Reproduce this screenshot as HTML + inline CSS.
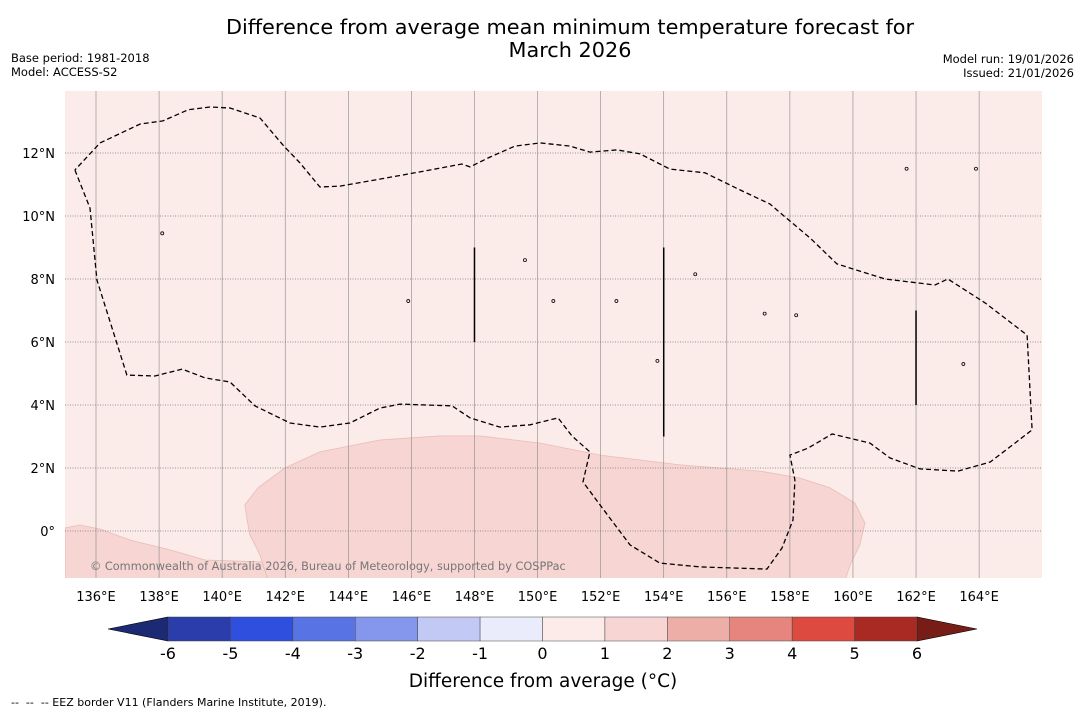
<!DOCTYPE html>
<html><head><meta charset="utf-8"><style>
body{margin:0;background:#fff;width:1085px;height:713px;overflow:hidden;font-family:"Liberation Sans","DejaVu Sans",sans-serif}
svg text{font-family:"DejaVu Sans","Liberation Sans",sans-serif}
</style></head><body>
<svg id="c" width="1085" height="713">
<text x="570" y="34" font-size="20.8" text-anchor="middle">Difference from average mean minimum temperature forecast for</text>
<text x="570" y="57" font-size="20.8" text-anchor="middle">March 2026</text>
<text x="11" y="62" font-size="11.5">Base period: 1981-2018</text>
<text x="11" y="76" font-size="11.5">Model: ACCESS-S2</text>
<text x="1074" y="63" font-size="11.5" text-anchor="end">Model run: 19/01/2026</text>
<text x="1074" y="77" font-size="11.5" text-anchor="end">Issued: 21/01/2026</text>
<g id="map"></g>
<g id="cbar"></g>
<text x="543" y="687" font-size="18.5" text-anchor="middle">Difference from average (°C)</text>
<text x="11" y="706" font-size="11" xml:space="preserve">--  --  -- EEZ border V11 (Flanders Marine Institute, 2019).</text>
</svg>
<script>
const lonTicks=[136,138,140,142,144,146,148,150,152,154,156,158,160,162,164];
const latTicks=[0,2,4,6,8,10,12];
const eezLon=[135.33,135.81,136.03,136.98,137.87,138.73,139.46,140.25,141.04,142.15,143.10,144.05,145.00,145.64,147.29,147.86,148.81,149.76,150.65,151.09,151.66,151.44,151.98,152.93,153.88,155.15,157.27,157.75,158.10,158.16,158.00,158.57,159.34,160.54,161.17,162.13,163.33,164.35,164.98,165.68,165.52,164.19,163.01,162.60,161.02,159.49,158.64,157.59,157.37,156.42,155.31,154.20,153.25,152.52,151.66,151.03,150.08,149.28,148.43,147.86,147.60,146.27,145.00,143.74,143.10,142.47,141.93,141.20,140.25,139.61,138.92,138.12,137.40,136.13,135.33];
const eezLat=[11.46,10.25,7.97,4.95,4.92,5.14,4.86,4.73,3.97,3.43,3.30,3.43,3.90,4.03,3.97,3.59,3.30,3.37,3.59,3.02,2.51,1.56,0.83,-0.44,-1.02,-1.14,-1.21,-0.54,0.35,1.62,2.41,2.63,3.08,2.79,2.32,1.97,1.90,2.19,2.67,3.21,6.22,7.24,8.00,7.81,8.00,8.48,9.30,10.19,10.38,10.83,11.37,11.49,11.97,12.10,12.03,12.22,12.32,12.22,11.84,11.56,11.65,11.40,11.17,10.95,10.92,11.68,12.25,13.11,13.43,13.46,13.37,13.02,12.92,12.32,11.46];
const anomLon=[140.79,140.72,141.14,141.99,143.10,145.00,146.91,148.17,150.08,151.98,154.52,157.05,158.32,159.27,160.06,160.38,160.22,159.91,159.75,141.45,141.20,140.88];
const anomLat=[0.35,0.83,1.37,2.00,2.51,2.89,3.02,3.02,2.79,2.41,2.10,1.90,1.68,1.37,0.89,0.25,-0.44,-1.08,-1.56,-1.56,-0.76,-0.13];
const anom2Lon=[135.02,135.49,136.13,137.08,138.35,139.46,141.26,141.45,135.02];
const anom2Lat=[0.10,0.19,0.06,-0.29,-0.60,-0.92,-0.98,-1.56,-1.56];
const segLon=[148,154,162];
const segLat0=[6,3,4];
const segLat1=[9,9,7];
const islandLon=[138.1,145.9,152.5,153.8,155.0,157.2,158.2,161.7,163.9,163.5,149.6,150.5];
const islandLat=[9.45,7.3,7.3,5.4,8.15,6.9,6.85,11.5,11.5,5.3,8.6,7.3];
const cbLevels=[-6,-5,-4,-3,-2,-1,0,1,2,3,4,5,6];
const cbColors=['#2a3dab','#2f4fdf','#5873e3','#8497ec','#c1c9f4','#eaecfb','#fcebe9','#f6d5d3','#eeaea8','#e6857e','#dc4a40','#a82a23'];
const cbExt=['#1b2a72','#781c17'];

const NS='http://www.w3.org/2000/svg';
const X0=65,X1=1042,Y0=91,Y1=578;
const xs=lon=>96+(lon-136)*31.54;
const ys=lat=>531-lat*31.5;
function mk(t,a,p){const e=document.createElementNS(NS,t);for(const k in a)e.setAttribute(k,a[k]);p.appendChild(e);return e;}
const map=document.getElementById('map');
const clip=mk('clipPath',{id:'cl'},map);mk('rect',{x:X0,y:Y0,width:X1-X0,height:Y1-Y0},clip);
const bg=mk('rect',{x:X0,y:Y0,width:X1-X0,height:Y1-Y0,fill:'#fbebe9'},map);


const g=mk('g',{'clip-path':'url(#cl)'},map);
function pts(a,b){return a.map((v,i)=>xs(v).toFixed(1)+','+ys(b[i]).toFixed(1)).join(' ');}
const p1=mk('polygon',{points:pts(anomLon,anomLat),fill:'#f6d5d3',stroke:'#e9bcb8','stroke-width':0.8},g);


const p2=mk('polygon',{points:pts(anom2Lon,anom2Lat),fill:'#f6d5d3',stroke:'#e9bcb8','stroke-width':0.8},g);


lonTicks.forEach(l=>{const x=xs(l);
 const ln=mk('line',{x1:x,x2:x,y1:Y0,y2:Y1,stroke:'#888','stroke-width':0.6},g);
 
 
 const t=mk('text',{x:x,y:Y1+23,'font-size':13,'text-anchor':'middle'},map);t.textContent=l+'°E';
 
 });
latTicks.forEach(l=>{const y=ys(l);
 const ln=mk('line',{x1:X0,x2:X1,y1:y,y2:y,stroke:'#777','stroke-width':0.7,'stroke-dasharray':'1,1.5'},g);
 
 
 const t=mk('text',{x:55,y:y+5,'font-size':13,'text-anchor':'end'},map);t.textContent=l===0?'0°':l+'°N';
 
 });
const ez=mk('polyline',{points:pts(eezLon,eezLat),fill:'none',stroke:'#000','stroke-width':1.3,'stroke-dasharray':'5,3'},g);


segLon.forEach((l,i)=>{const s=mk('line',{x1:xs(l),x2:xs(l),y1:ys(segLat0[i]),y2:ys(segLat1[i]),stroke:'#000','stroke-width':1.5},g);
 
 });
islandLon.forEach((l,i)=>{const c=mk('circle',{cx:xs(l),cy:ys(islandLat[i]),r:1.5,fill:'none',stroke:'#000','stroke-width':0.8},g);
 
 });
const wm=mk('text',{x:90,y:570,'font-size':11.3,fill:'#777'},g);wm.textContent='© Commonwealth of Australia 2026, Bureau of Meteorology, supported by COSPPac';


const cb=document.getElementById('cbar');
const CX0=168,CX1=917,CY0=617,CY1=641;
const bw=(CX1-CX0)/cbColors.length;
const cx=v=>CX0+(v-cbLevels[0])/(cbLevels[cbLevels.length-1]-cbLevels[0])*(CX1-CX0);
const le=mk('polygon',{points:`${CX0},${CY0} ${CX0},${CY1} 108,${(CY0+CY1)/2}`,fill:cbExt[0],stroke:'#000','stroke-width':0.6},cb);


const re=mk('polygon',{points:`${CX1},${CY0} ${CX1},${CY1} 977,${(CY0+CY1)/2}`,fill:cbExt[1],stroke:'#000','stroke-width':0.6},cb);


cbColors.forEach((c,i)=>{const r=mk('rect',{x:cx(cbLevels[i]),y:CY0,width:bw,height:CY1-CY0,fill:c,stroke:'#444','stroke-width':0.5},cb);
 
 });
cbLevels.forEach(v=>{const t=mk('text',{x:cx(v),y:659,'font-size':16,'text-anchor':'middle'},cb);t.textContent=v;
 
 });
</script>
</body></html>
